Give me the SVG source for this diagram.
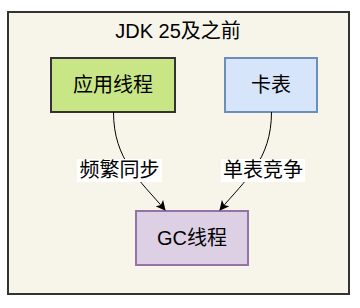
<svg xmlns="http://www.w3.org/2000/svg" width="360" height="308" viewBox="0 0 360 308">
<defs>
<style>
.t{font-family:"Liberation Sans","Noto Sans CJK SC",sans-serif;font-size:20px;fill:#000;text-anchor:middle}
.e{fill:none;stroke:#000;stroke-width:1}
.lb{fill:#fff}
</style>
<marker id="arr" viewBox="0 0 10 10" refX="9" refY="5" markerWidth="10" markerHeight="10" markerUnits="userSpaceOnUse" orient="auto">
<path d="M0,0 L10,5 L0,10 L2.5,5 Z" fill="#000"/>
</marker>
</defs>
<rect width="360" height="308" fill="#fff"/>
<g id="container">
<rect x="8" y="12" width="341" height="282" fill="#f7f5ea" stroke="#333" stroke-width="2"/>
<text class="t" x="178" y="38">JDK 25及之前</text>
</g>
<g id="app-thread">
<rect x="51" y="58" width="124" height="54" fill="#c9e687" stroke="#333" stroke-width="2"/>
<text class="t" x="113" y="92">应用线程</text>
</g>
<g id="card-table">
<rect x="225" y="58" width="92" height="54" fill="#d6e5f9" stroke="#6c8ebf" stroke-width="2"/>
<text class="t" x="271" y="92">卡表</text>
</g>
<g id="gc-thread">
<rect x="136" y="211" width="112" height="54" fill="#ddd0e5" stroke="#9673a6" stroke-width="2"/>
<text class="t" x="192" y="245">GC线程</text>
</g>
<g id="connectors">
<path class="e" d="M113.5 112 C113.5 160 140 180 165 210" marker-end="url(#arr)"/>
<path class="e" d="M271.5 112 C271.5 160 245 180 220 210" marker-end="url(#arr)"/>
<rect class="lb" x="77" y="159" width="85" height="23"/>
<text class="t" x="119.5" y="177">频繁同步</text>
<rect class="lb" x="221" y="159" width="84" height="23"/>
<text class="t" x="263" y="177">单表竞争</text>
</g>
</svg>
